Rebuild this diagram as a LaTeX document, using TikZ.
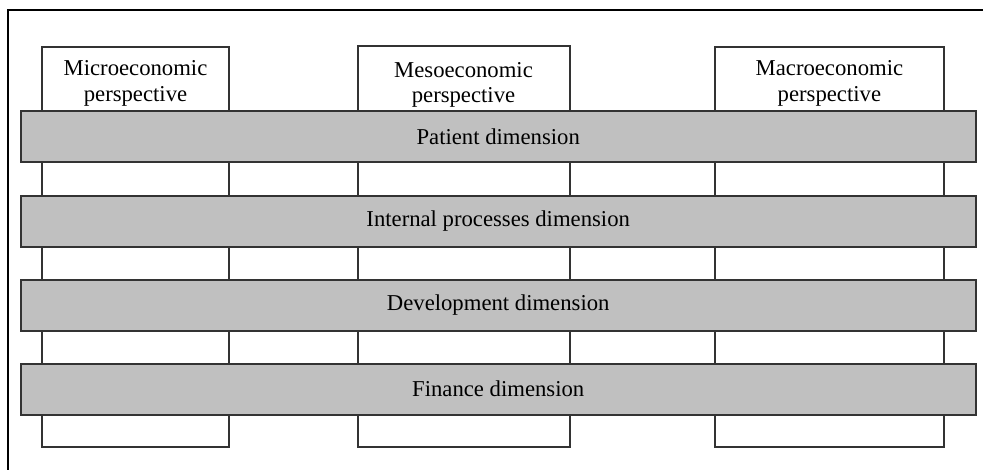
\documentclass[tikz,border=0pt]{standalone}
\usepackage{fontspec}
\setmainfont{Liberation Serif}
\usepackage{tikz}
\usetikzlibrary{positioning}
\definecolor{bargray}{HTML}{C0C0C0}
\definecolor{edgegray}{HTML}{333333}
\tikzset{
	perspective/.style={draw=edgegray, line width=1pt, fill=white, minimum height=200pt, inner sep=0pt},
	perspectivetext/.style={align=center, inner sep=0pt, font=\fontsize{11.35}{12.8}\selectfont},
	dimension/.style={draw=edgegray, line width=1pt, fill=bargray, minimum width=477.5pt, minimum height=25.5pt, inner sep=0pt, font=\fontsize{11.35}{12.8}\selectfont}
}
\begin{document}
\begin{tikzpicture}[x=0.5pt, y=-0.5pt]
						\useasboundingbox (0,0) rectangle (983,470);
						\draw[line width=0.7pt] (983,10) -- (8,10) -- (8,470);
						
						% columns
						\node[perspective, minimum width=93.5pt] (micro) at (135.5,246.8) {};
						\node[perspective, minimum width=106pt] (meso) at (463.5,246.5) {};
						\node[perspective, minimum width=114.6pt] (macro) at (829.4,246.8) {};
						
						\node[perspectivetext] (microtext) at (135.5,83.5) {Microeconomic\\perspective};
						\node[perspectivetext] (mesotext) at (463.5,85) {Mesoeconomic\\perspective};
						\node[perspectivetext] (macrotext) at (829.4,83.5) {Macroeconomic\\perspective};
						
						% dimensions
						\node[dimension] (patient) at (498.2,136.7) {Patient dimension};
						\node[dimension] (internal) at (498.2,221.3) {Internal processes dimension};
						\node[dimension] (development) at (498.2,305.2) {Development dimension};
						\node[dimension] (finance) at (498.2,389) {Finance dimension};
					\end{tikzpicture}
\end{document}
